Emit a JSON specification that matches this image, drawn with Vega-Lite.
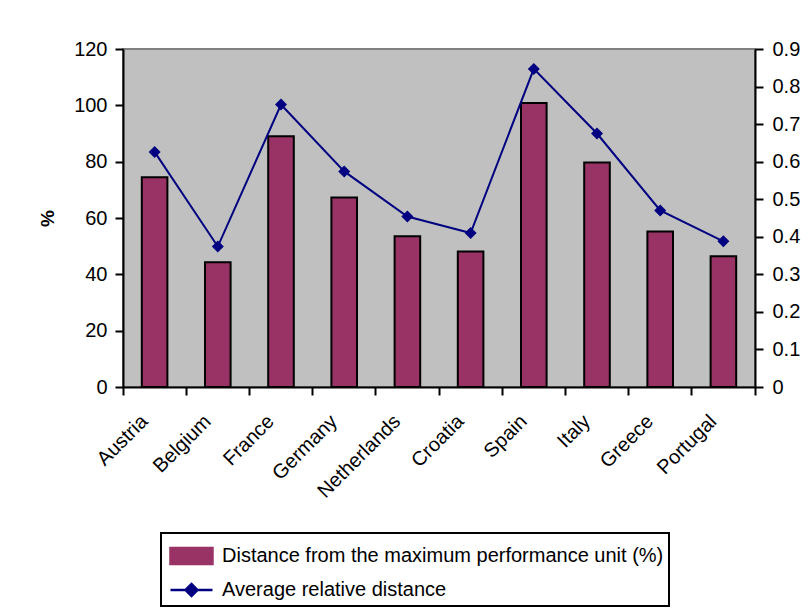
{
  "$schema": "https://vega.github.io/schema/vega-lite/v6.json",
  "autosize": "none",
  "width": 632,
  "height": 338,
  "padding": {"left": 123, "top": 49, "right": 56, "bottom": 223},
  "background": "white",
  "config": {
    "view": {"fill": "#C0C0C0", "stroke": "#808080", "strokeWidth": 2},
    "font": "Liberation Sans",
    "axis": {
      "labelFont": "Liberation Sans",
      "labelFontSize": 20,
      "labelColor": "black",
      "titleFont": "Liberation Sans",
      "titleColor": "black",
      "domainColor": "black",
      "tickColor": "black",
      "domainWidth": 2,
      "tickWidth": 2,
      "tickSize": 8,
      "grid": false
    }
  },
  "data": {
    "values": [
      {"country": "Austria", "distance": 74.5, "avg": 0.626},
      {"country": "Belgium", "distance": 44.3, "avg": 0.374},
      {"country": "France", "distance": 89.0, "avg": 0.752},
      {"country": "Germany", "distance": 67.3, "avg": 0.574},
      {"country": "Netherlands", "distance": 53.5, "avg": 0.454},
      {"country": "Croatia", "distance": 48.1, "avg": 0.41},
      {"country": "Spain", "distance": 100.8, "avg": 0.847},
      {"country": "Italy", "distance": 79.7, "avg": 0.675},
      {"country": "Greece", "distance": 55.2, "avg": 0.47},
      {"country": "Portugal", "distance": 46.4, "avg": 0.388}
    ]
  },
  "layer": [
    {
      "mark": {"type": "bar", "stroke": "black", "strokeWidth": 2},
      "encoding": {
        "x": {
          "field": "country", "type": "nominal", "sort": null,
          "scale": {"paddingInner": 0.595, "paddingOuter": 0.2975},
          "axis": {"title": null, "ticks": false, "tickSize": 0, "domain": false, "labelAngle": -45, "labelAlign": "right", "labelBaseline": "middle", "labelPadding": 31, "labelOffset": -10}
        },
        "y": {
          "field": "distance", "type": "quantitative",
          "scale": {"domain": [0, 120], "nice": false},
          "axis": {"title": "%", "values": [0, 20, 40, 60, 80, 100, 120], "titleFontSize": 19, "titleFontWeight": "bold", "titlePadding": 16, "labelPadding": 8}
        },
        "color": {
          "datum": "Distance from the maximum performance unit (%)",
          "scale": {"domain": ["Distance from the maximum performance unit (%)", "Average relative distance"], "range": ["#993366", "#000080"]},
          "legend": {
            "orient": "none", "legendX": 38, "legendY": 484, "title": null, "direction": "vertical",
            "strokeColor": "black", "fillColor": "white", "padding": 5,
            "labelFont": "Liberation Sans", "labelFontSize": 20, "labelColor": "black", "labelLimit": 1000,
            "symbolSize": 1089, "rowPadding": 2, "labelOffset": 20, "symbolStrokeWidth": 2.5, "symbolStrokeColor": "black",
            "encode": {
              "legend": {"update": {"strokeWidth": {"value": 2}}},
              "symbols": {
                "enter": {
                  "shape": {"signal": "datum.value === 'Average relative distance' ? 'M-0.818,0L1.727,0M0.095,0L0.455,-0.36L0.815,0L0.455,0.36Z' : 'M-0.818,-0.485L1.727,-0.485L1.727,0.485L-0.818,0.485Z'"},
                  "stroke": {"signal": "datum.value === 'Average relative distance' ? '#000080' : 'black'"}
                },
                "update": {
                  "shape": {"signal": "datum.value === 'Average relative distance' ? 'M-0.818,0L1.727,0M0.095,0L0.455,-0.36L0.815,0L0.455,0.36Z' : 'M-0.818,-0.485L1.727,-0.485L1.727,0.485L-0.818,0.485Z'"},
                  "stroke": {"signal": "datum.value === 'Average relative distance' ? '#000080' : 'black'"},
                  "fill": {"signal": "datum.value === 'Average relative distance' ? '#000080' : '#993366'"},
                  "strokeWidth": {"value": 2.5},
                  "strokeOpacity": {"value": 1},
                  "fillOpacity": {"value": 1},
                  "opacity": {"value": 1}
                }
              }
            }
          }
        }
      }
    },
    {
      "mark": {"type": "line", "strokeWidth": 2, "point": {"filled": true, "shape": "diamond", "size": 144}},
      "encoding": {
        "x": {
          "field": "country", "type": "nominal", "sort": null,
          "scale": {"type": "band", "paddingInner": 0, "paddingOuter": 0},
          "axis": {"orient": "bottom", "title": null, "labels": false, "bandPosition": 1, "tickExtra": true, "domain": true, "tickSize": 8}
        },
        "y": {
          "field": "avg", "type": "quantitative",
          "scale": {"domain": [0, 0.9], "nice": false},
          "axis": {"orient": "right", "title": null, "values": [0, 0.1, 0.2, 0.3, 0.4, 0.5, 0.6, 0.7, 0.8, 0.9], "format": "~g", "labelPadding": 9}
        },
        "color": {
          "datum": "Average relative distance",
          "legend": {
            "orient": "none", "legendX": 38, "legendY": 484, "title": null, "direction": "vertical",
            "strokeColor": "black", "fillColor": "white", "padding": 5,
            "labelFont": "Liberation Sans", "labelFontSize": 20, "labelColor": "black", "labelLimit": 1000,
            "symbolSize": 1089, "rowPadding": 2, "labelOffset": 20, "symbolStrokeWidth": 2.5, "symbolStrokeColor": "black",
            "encode": {
              "legend": {"update": {"strokeWidth": {"value": 2}}},
              "symbols": {
                "enter": {
                  "shape": {"signal": "datum.value === 'Average relative distance' ? 'M-0.818,0L1.727,0M0.095,0L0.455,-0.36L0.815,0L0.455,0.36Z' : 'M-0.818,-0.485L1.727,-0.485L1.727,0.485L-0.818,0.485Z'"},
                  "stroke": {"signal": "datum.value === 'Average relative distance' ? '#000080' : 'black'"}
                },
                "update": {
                  "shape": {"signal": "datum.value === 'Average relative distance' ? 'M-0.818,0L1.727,0M0.095,0L0.455,-0.36L0.815,0L0.455,0.36Z' : 'M-0.818,-0.485L1.727,-0.485L1.727,0.485L-0.818,0.485Z'"},
                  "stroke": {"signal": "datum.value === 'Average relative distance' ? '#000080' : 'black'"},
                  "fill": {"signal": "datum.value === 'Average relative distance' ? '#000080' : '#993366'"},
                  "strokeWidth": {"value": 2.5},
                  "strokeOpacity": {"value": 1},
                  "fillOpacity": {"value": 1},
                  "opacity": {"value": 1}
                }
              }
            }
          }
        }
      }
    }
  ],
  "resolve": {"scale": {"x": "independent", "y": "independent"}}
}
